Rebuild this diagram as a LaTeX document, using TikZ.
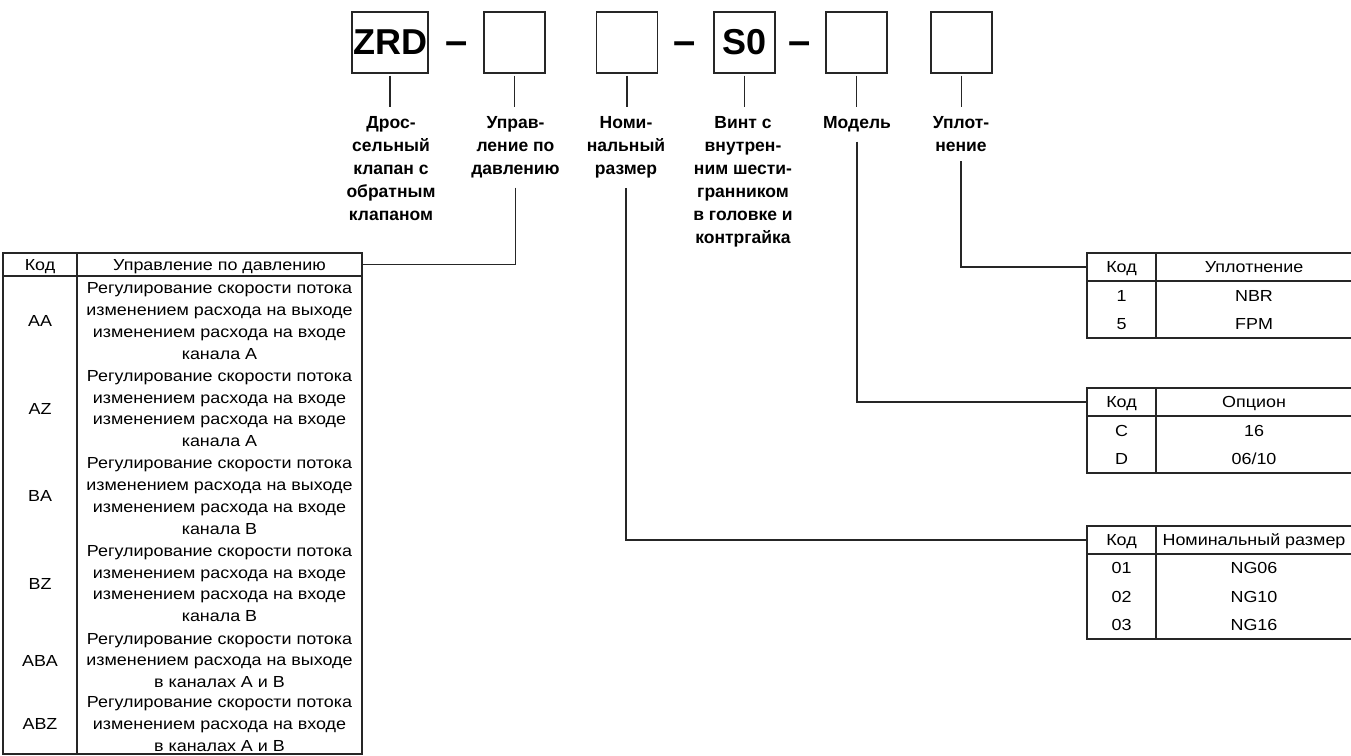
\documentclass[tikz,border=0pt]{standalone}
\usepackage{fontspec}
\setmainfont{Liberation Sans}
\newfontfamily\tabfont[FakeStretch=1.12]{Liberation Sans}
\usetikzlibrary{positioning}

\begin{document}
\begin{tikzpicture}[x=1pt, y=-1pt, line width=1.2pt, draw=black!85]
        \tikzstyle{every node}=[font=\tabfont\fontsize{16}{21.8}\selectfont]
        \tikzstyle{codebox}=[draw, minimum width=61pt, minimum height=61pt, inner sep=0pt, font=\fontsize{36}{40}\selectfont\bfseries]
        \tikzstyle{hyph}=[anchor=base, inner sep=0pt, font=\fontsize{40}{40}\selectfont\bfseries]
        \tikzstyle{caption}=[anchor=north, align=center, inner sep=3pt, font=\fontsize{17.5}{23}\selectfont\bfseries]
        \tikzstyle{cell}=[draw, inner sep=0pt, text height=11.5pt, text depth=0pt]
        \tikzstyle{entry}=[inner sep=0pt, text height=11.5pt, text depth=0pt]
        \tikzstyle{desc}=[align=center, inner sep=0pt]
        \useasboundingbox (0,0) rectangle (1351,755);

        % type code
        \node [codebox, minimum width=76pt] (zrd) at (390, 42.5) {ZRD};
        \node [hyph] (h1) at (456.5, 54) {--};
        \node [codebox] (ctrl) at (514.5, 42.5) {};
        \node [codebox] (size) at (627, 42.5) {};
        \node [hyph] (h2) at (685, 54) {--};
        \node [codebox] (screw) at (744.5, 42.5) {S0};
        \node [hyph] (h3) at (800, 54) {--};
        \node [codebox] (model) at (856.5, 42.5) {};
        \node [codebox] (seal) at (961.5, 42.5) {};

        \node [caption] (lzrd) at (391, 113) {Дрос-\\сельный\\клапан с\\обратным\\клапаном};
        \node [caption] (lctrl) at (515.5, 113) {Управ-\\ление по\\давлению};
        \node [caption] (lsize) at (626, 113) {Номи-\\нальный\\размер};
        \node [caption] (lscrew) at (743, 113) {Винт с\\внутрен-\\ним шести-\\гранником\\в головке и\\контргайка};
        \node [caption] (lmodel) at (857, 113) {Модель};
        \node [caption] (lseal) at (961, 113) {Уплот-\\нение};

        \foreach \b/\l in {zrd/lzrd, ctrl/lctrl, size/lsize, screw/lscrew, model/lmodel, seal/lseal}
          \draw [shorten <=2pt, shorten >=6pt] (\b.south) -- (\b.south |- \l.north);

        % pressure control
        \node [cell, minimum width=74pt, minimum height=23pt] (ctrlcode) at (40, 264.5) {Код};
        \node [cell, minimum width=285pt, minimum height=23pt] (ctrlhead) at (219.5, 264.5) {Управление по давлению};
        \node [cell, minimum width=74pt, minimum height=478pt] (ctrlcodes) at (40, 515) {};
        \node [cell, minimum width=285pt, minimum height=478pt] (ctrlbody) at (219.5, 515) {};
        \foreach \c/\y/\t in {
            AA/321/{Регулирование скорости потока\\изменением расхода на выходе\\изменением расхода на входе\\канала A},
            AZ/408.5/{Регулирование скорости потока\\изменением расхода на входе\\изменением расхода на входе\\канала A},
            BA/496/{Регулирование скорости потока\\изменением расхода на выходе\\изменением расхода на входе\\канала B},
            BZ/583.5/{Регулирование скорости потока\\изменением расхода на входе\\изменением расхода на входе\\канала B},
            ABA/660.5/{Регулирование скорости потока\\изменением расхода на выходе\\в каналах A и B},
            ABZ/724/{Регулирование скорости потока\\изменением расхода на входе\\в каналах A и B}}
        {
          \node [entry] (code\c) at (40, \y) {\c};
          \node [desc] (desc\c) at (219.5, \y) {\t};
        }

        % seal
        \node [cell, minimum width=69pt, minimum height=28pt] (sealcode) at (1121.5, 267) {Код};
        \node [cell, minimum width=196pt, minimum height=28pt] (sealhead) at (1254, 267) {Уплотнение};
        \node [cell, minimum width=69pt, minimum height=57pt] (sealcodes) at (1121.5, 309.5) {};
        \node [cell, minimum width=196pt, minimum height=57pt] (sealbody) at (1254, 309.5) {};
        \foreach \c/\y/\t in {1/295.25/NBR, 5/323.75/FPM}
        {
          \node [entry] (seal\c) at (1121.5, \y) {\c};
          \node [entry] (sealval\c) at (1254, \y) {\t};
        }

        % model
        \node [cell, minimum width=69pt, minimum height=28pt] (modelcode) at (1121.5, 402) {Код};
        \node [cell, minimum width=196pt, minimum height=28pt] (modelhead) at (1254, 402) {Опцион};
        \node [cell, minimum width=69pt, minimum height=57pt] (modelcodes) at (1121.5, 444.5) {};
        \node [cell, minimum width=196pt, minimum height=57pt] (modelbody) at (1254, 444.5) {};
        \foreach \c/\y/\t in {C/430.25/16, D/458.75/06\slash 10}
        {
          \node [entry] (model\c) at (1121.5, \y) {\c};
          \node [entry] (modelval\c) at (1254, \y) {\t};
        }

        % nominal size
        \node [cell, minimum width=69pt, minimum height=28pt] (sizecode) at (1121.5, 540) {Код};
        \node [cell, minimum width=196pt, minimum height=28pt] (sizehead) at (1254, 540) {Номинальный размер};
        \node [cell, minimum width=69pt, minimum height=85pt] (sizecodes) at (1121.5, 596.5) {};
        \node [cell, minimum width=196pt, minimum height=85pt] (sizebody) at (1254, 596.5) {};
        \foreach \c/\y/\t in {01/568.2/NG06, 02/596.5/NG10, 03/624.8/NG16}
        {
          \node [entry] (size\c) at (1121.5, \y) {\c};
          \node [entry] (sizeval\c) at (1254, \y) {\t};
        }

        \draw [shorten <=6pt] (lctrl.south) |- (ctrlhead.east);
        \draw [shorten <=6pt] (lsize.south) |- (sizecode.west);
        \draw [shorten <=6pt] (lmodel.south) |- (modelcode.west);
        \draw [shorten <=6pt] (lseal.south) |- (sealcode.west);
      \end{tikzpicture}
\end{document}
